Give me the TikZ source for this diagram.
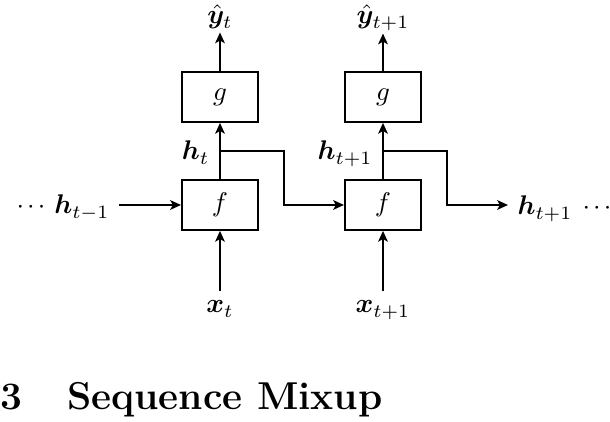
\documentclass[tikz,border=0pt]{standalone}
\usepackage{bm}
\usetikzlibrary{arrows.meta,calc}
\newcommand{\rdots}{\mathinner{\cdotp\mkern-0.9mu\cdotp\mkern-0.9mu\cdotp}}
\begin{document}
\begin{tikzpicture}[x=0.37037pt,y=-0.37037pt,
  fn/.style={draw,line width=0.6pt,minimum width=28.3pt,minimum height=18.6pt,inner sep=0pt},
  conn/.style={line width=0.6pt,-{Stealth[length=4pt,width=3.6pt,inset=1pt]}},
  lbl/.style={inner sep=3.33pt},
  outlbl/.style={inner sep=1pt}]
\useasboundingbox (0,0) rectangle (610,422);
% function boxes
\node[fn] (g1) at (220,97) {$g$};
\node[fn] (f1) at (220,205) {$f$};
\node[fn] (g2) at (383,97) {$g$};
\node[fn] (f2) at (383,205) {$f$};
% outputs
\node[outlbl,anchor=base] (y1) at (220,24) {$\hat{\bm y}_t$};
\node[outlbl,anchor=base] (y2) at (383,24) {$\hat{\bm y}_{t+1}$};
% inputs
\node[lbl,anchor=base] (x1) at (220,313) {$\bm x_t$};
\node[lbl,anchor=base] (x2) at (383,313) {$\bm x_{t+1}$};
% hidden state labels
\node[lbl,anchor=base east] (h1) at (219,160) {$\bm h_t$};
\node[lbl,anchor=base east] (h2) at (382,160) {$\bm h_{t+1}$};
% left / right ends
\node[lbl,anchor=base west] (dl) at (7,214) {$\rdots$};
\node[lbl,anchor=base east] (hprev) at (119,214) {$\bm h_{t-1}$};
\node[lbl,anchor=base west] (hnext) at (508,215) {$\bm h_{t+1}$};
\node[lbl,anchor=base west] (dr) at (573,215) {$\rdots$};
% branch points
\coordinate (b1) at (220,151);
\coordinate (k1) at (284,151);
\coordinate (b2) at (383,151);
\coordinate (k2) at (447,151);
% connectors
\draw[conn] (g1.north) -- (y1.south);
\draw[conn] (g2.north) -- (y2.south);
\draw[conn] (f1.north) -- (g1.south);
\draw[conn] (f2.north) -- (g2.south);
\draw[conn] (x1.north) -- (f1.south);
\draw[conn] (x2.north) -- (f2.south);
\draw[conn] (hprev.east |- f1.west) -- (f1.west);
\draw[conn] (b1) -- (k1) |- (f2.west);
\draw[conn] (b2) -- (k2) |- (hnext.west |- f2.east);
% heading
\node[inner sep=0pt,anchor=base west] (sec) at (0,410) {\Large\bfseries 3\hspace{16.6pt}Sequence Mixup};
\end{tikzpicture}
\end{document}
